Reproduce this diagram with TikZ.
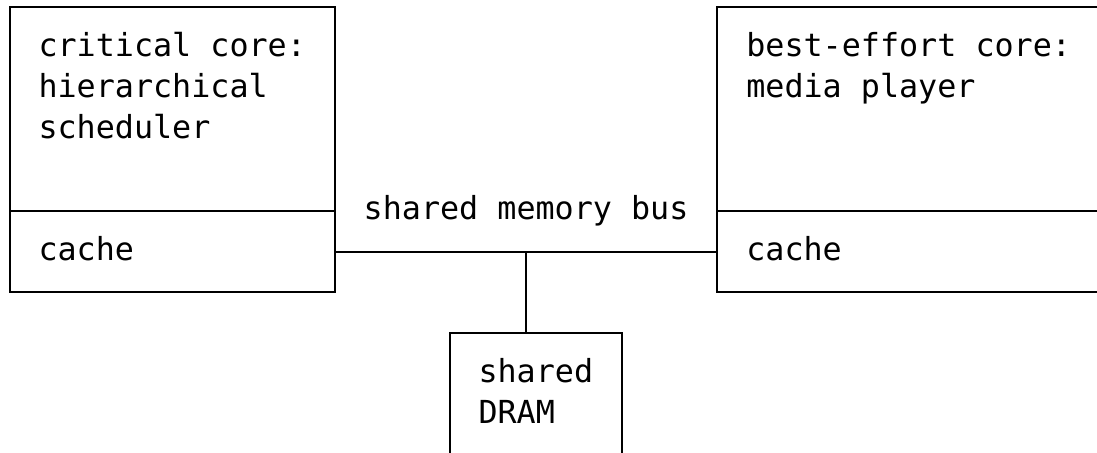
\documentclass[tikz,border=0pt]{standalone}
\usepackage{fontspec}
\setmonofont{DejaVu Sans Mono}
\usetikzlibrary{positioning}

\begin{document}
\begin{tikzpicture}[x=14.35pt, y=-30.53pt]
\tikzstyle{unit} = [rectangle, draw=black, line width=1.5pt, inner sep=0pt, outer sep=0pt]
\tikzstyle{mono} = [inner sep=0pt, anchor=base west, align=left, font=\ttfamily\fontsize{23.8pt}{30.53pt}\selectfont]
\tikzstyle{wire} = [line width=1.5pt]

\clip (0,0) rectangle (57.345,11.13);

% Ядра и их кэши
\node[unit, minimum width=243.95pt, minimum height=152.65pt] (critCore) at (9,2.68) {};
\node[unit, minimum width=243.95pt, minimum height=61.06pt] (critCache) [below=0pt of critCore] {};
\node[unit, minimum width=301.35pt, minimum height=152.65pt] (bestCore) at (48,2.68) {};
\node[unit, minimum width=301.35pt, minimum height=61.06pt] (bestCache) [below=0pt of bestCore] {};
\node[unit, minimum width=129.15pt, minimum height=97.70pt] (dram) at (28,9.78) {};

% Подписи (base = последняя строка)
\node[mono] (critTxt) at (2,3.40) {critical core:\\hierarchical\\scheduler};
\node[mono] (critCacheTxt) at (2,6.40) {cache};
\node[mono] (bestTxt) at (39,2.40) {best-effort core:\\media player};
\node[mono] (bestCacheTxt) at (39,6.40) {cache};
\node[mono] (busTxt) at (19,5.40) {shared memory bus};
\node[mono] (dramTxt) at (25,10.40) {shared\\DRAM};

% Шина
\coordinate (tap) at (27.5,6.18);
\draw[wire] (critCache) -- (bestCache);
\draw[wire] (tap) -- (tap |- dram.north);

\end{tikzpicture}
\end{document}
